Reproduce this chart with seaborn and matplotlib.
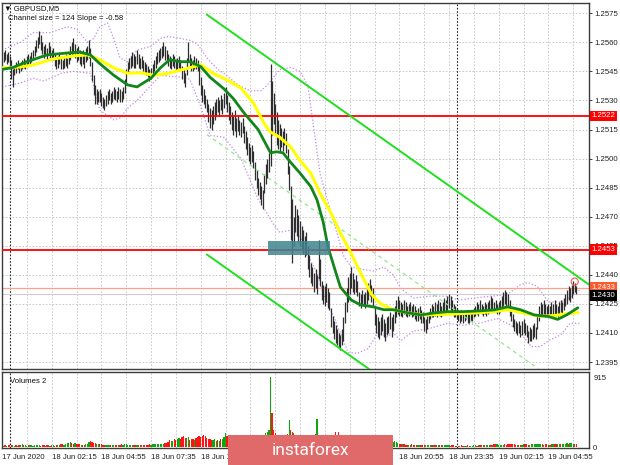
import numpy as np
import pandas as pd
import matplotlib
matplotlib.use("Agg")
import matplotlib.pyplot as plt
import matplotlib.transforms as mtransforms
from matplotlib.patches import Rectangle
import seaborn as sns

# ---------------------------------------------------------------- data
# prices are given in pips above base_price (1.2300); bar index 0 = 17 Jun 23:35 (M5 bars)
base_price = 1.2300
pip = 0.0001

bar_high = [
    255, 256, 254, 255, 253, 251, 246, 248, 250, 251,
    249, 250, 251, 252, 251, 253, 254, 253, 255, 256,
    258, 261, 263, 266, 264, 260, 258, 259, 257, 260,
    258, 256, 257, 254, 252, 253, 254, 252, 251, 253,
    254, 252, 255, 258, 260, 262, 259, 257, 258, 256,
    255, 256, 254, 257, 258, 261, 257, 250, 243, 238,
    236, 235, 236, 234, 232, 231, 233, 235, 236, 234,
    235, 237, 236, 235, 237, 236, 235, 237, 241, 246,
    250, 252, 253, 255, 254, 253, 256, 254, 252, 253,
    251, 250, 249, 248, 246, 247, 249, 251, 253, 255,
    256, 257, 258, 260, 258, 256, 254, 253, 252, 254,
    253, 251, 252, 253, 251, 248, 246, 244, 252, 260,
    254, 252, 251, 253, 252, 251, 248, 242, 238, 236,
    233, 231, 228, 226, 225, 227, 229, 231, 232, 230,
    233, 231, 234, 237, 233, 229, 227, 224, 222, 225,
    221, 222, 220, 219, 221, 217, 214, 211, 208, 206,
    207, 204, 198, 194, 190, 188, 186, 184, 192, 197,
    200, 203, 249, 240, 234, 228, 224, 220, 218, 216,
    214, 216, 213, 205, 196, 186, 179, 170, 176, 174,
    171, 168, 165, 163, 160, 162, 155, 150, 146, 144,
    141, 143, 140, 158, 148, 137, 135, 134, 136, 133,
    131, 123, 119, 116, 114, 112, 110, 109, 112, 118,
    126, 133, 139, 141, 144, 141, 138, 140, 137, 131,
    130, 132, 130, 131, 133, 136, 138, 135, 133, 124,
    120, 118, 116, 118, 120, 117, 115, 118, 119, 121,
    118, 120, 124, 127, 129, 127, 126, 125, 127, 126,
    124, 125, 126, 124, 125, 124, 122, 123, 124, 122,
    121, 118, 117, 119, 121, 123, 125, 124, 126, 125,
    127, 126, 124, 126, 128, 127, 129, 130, 129, 127,
    125, 124, 123, 122, 121, 122, 120, 121, 122, 121,
    120, 122, 121, 123, 124, 126, 125, 127, 125, 124,
    126, 125, 126, 127, 129, 128, 126, 127, 125, 126,
    127, 129, 131, 132, 131, 130, 127, 123, 120, 117,
    116, 115, 116, 114, 116, 117, 115, 114, 111, 113,
    112, 114, 115, 113, 120, 124, 126, 125, 127, 125,
    124, 125, 124, 126, 125, 127, 125, 124, 126, 127,
    126, 128, 130, 132, 134, 133, 135, 137, 136, 134,
]
bar_low = [
    250, 251, 249, 250, 248, 241, 237, 243, 244, 246,
    244, 245, 246, 247, 246, 248, 249, 248, 250, 251,
    253, 255, 257, 259, 256, 254, 252, 253, 251, 254,
    252, 251, 251, 248, 246, 247, 249, 246, 246, 247,
    248, 247, 249, 251, 253, 254, 252, 250, 251, 249,
    248, 249, 247, 250, 251, 252, 248, 240, 233, 228,
    228, 229, 229, 227, 226, 225, 227, 228, 230, 228,
    229, 231, 230, 229, 231, 229, 229, 231, 234, 238,
    244, 246, 247, 248, 247, 247, 249, 247, 246, 247,
    245, 244, 243, 242, 240, 241, 243, 245, 247, 249,
    250, 251, 252, 253, 251, 250, 248, 247, 246, 248,
    247, 245, 246, 247, 246, 241, 239, 237, 243, 250,
    247, 245, 245, 246, 246, 245, 238, 233, 229, 228,
    226, 224, 219, 216, 215, 218, 220, 222, 224, 222,
    225, 223, 226, 228, 224, 220, 218, 215, 212, 214,
    211, 214, 212, 211, 213, 208, 205, 202, 199, 197,
    198, 195, 189, 185, 181, 179, 176, 174, 182, 187,
    190, 193, 196, 212, 218, 212, 207, 205, 204, 206,
    204, 207, 203, 192, 184, 158, 146, 155, 162, 160,
    157, 155, 153, 151, 149, 150, 143, 139, 136, 134,
    131, 133, 130, 138, 134, 127, 125, 124, 126, 123,
    122, 113, 110, 107, 105, 104, 103, 101, 104, 106,
    115, 121, 126, 130, 133, 131, 130, 131, 129, 124,
    123, 125, 124, 123, 125, 127, 129, 126, 124, 114,
    110, 108, 107, 109, 111, 108, 106, 109, 110, 112,
    108, 111, 115, 118, 120, 119, 119, 118, 120, 119,
    118, 119, 120, 118, 119, 117, 116, 116, 117, 115,
    115, 111, 110, 112, 115, 117, 118, 118, 119, 118,
    120, 119, 118, 120, 121, 120, 122, 123, 122, 120,
    118, 118, 117, 116, 115, 116, 115, 116, 117, 115,
    115, 116, 116, 118, 119, 120, 119, 121, 120, 119,
    120, 119, 120, 121, 122, 122, 121, 121, 120, 120,
    121, 123, 124, 125, 124, 123, 119, 116, 113, 111,
    110, 109, 110, 108, 109, 110, 109, 108, 105, 106,
    106, 107, 108, 107, 112, 116, 118, 119, 120, 118,
    118, 119, 118, 120, 119, 120, 119, 118, 120, 121,
    120, 122, 124, 125, 127, 126, 128, 130, 131, 130,
]
volume = [
    18, 22, 15, 20, 25, 30, 22, 18, 20, 16,
    24, 30, 35, 28, 20, 18, 22, 26, 20, 18,
    25, 30, 28, 22, 18, 20, 24, 19, 22, 20,
    18, 22, 20, 16, 25, 30, 28, 35, 40, 32,
    45, 50, 55, 60, 48, 40, 52, 45, 38, 35,
    30, 28, 32, 40, 35, 60, 85, 70, 55, 50,
    45, 40, 38, 35, 30, 28, 32, 30, 26, 24,
    30, 28, 25, 22, 26, 30, 35, 32, 40, 38,
    30, 28, 25, 32, 30, 26, 28, 24, 22, 30,
    26, 24, 28, 30, 35, 32, 40, 45, 42, 38,
    35, 40, 38, 45, 50, 55, 70, 90, 80, 85,
    100, 95, 110, 120, 105, 130, 140, 120, 115, 125,
    90, 110, 100, 95, 120, 135, 150, 130, 145, 160,
    140, 120, 110, 100, 95, 90, 105, 85, 95, 80,
    100, 110, 130, 180, 150, 140, 130, 120, 110, 125,
    130, 120, 115, 140, 130, 120, 125, 140, 135, 130,
    150, 160, 140, 130, 145, 150, 140, 135, 160, 180,
    200, 220, 915, 450, 220, 180, 160, 150, 140, 130,
    140, 130, 150, 170, 355, 220, 200, 180, 160, 150,
    140, 130, 150, 140, 130, 145, 160, 150, 140, 130,
    150, 170, 370, 160, 150, 140, 130, 120, 130, 125,
    120, 110, 130, 150, 190, 140, 190, 160, 150, 130,
    120, 110, 100, 105, 95, 90, 100, 85, 80, 90,
    80, 75, 85, 70, 75, 80, 70, 65, 75, 70,
    65, 60, 70, 65, 60, 55, 60, 70, 65, 60,
    70, 65, 75, 60, 50, 45, 40, 38, 35, 30,
    32, 30, 28, 35, 30, 26, 24, 28, 30, 26,
    24, 28, 30, 26, 22, 25, 28, 24, 22, 20,
    24, 22, 26, 30, 28, 25, 22, 20, 18, 22,
    20, 18, 16, 15, 18, 20, 16, 15, 18, 20,
    18, 16, 15, 20, 22, 18, 24, 30, 26, 22,
    20, 24, 22, 26, 30, 28, 35, 45, 40, 30,
    28, 26, 30, 35, 32, 40, 45, 38, 42, 35,
    30, 28, 32, 30, 28, 35, 40, 38, 32, 30,
    34, 40, 36, 42, 38, 45, 40, 35, 32, 38,
    35, 30, 32, 40, 38, 35, 42, 45, 40, 38,
    35, 40, 45, 50, 42, 48, 55, 45, 40, 35,
]
volume_dir = (
    "UDUDDDUUDU" "DUUDUUDUUU" "UUUUDDDUDU" "DDUDDUUDDU" "UUUUDDUDDD"
    "UDDUUUDDDD" "UUDDDDUUUD" "UUDDUDDUUU" "UUUUDDUDDU" "DDDDDUUUUU"
    "UUUUDDDDUU" "DDUUDDDDUU" "DDDUDDDDDD" "DDDDDUUUDU" "DUUUDDDDDU"
    "DDDUDDDDDD" "DDDDDDUUUU" "UUUDDDDDDU" "DUDDUDDUDD" "DDDUDDDDDD"
    "DDUDDDDUDD" "DDDDDDDDUU" "UUUUDDUDDD" "DUDUUUDDDD" "DDDUUDDUUU"
    "DUUUUDDUDD" "DUUDDDDUUD" "DDUUUUDUDU" "UDDUUUUUDD" "DDDDUDDUUD"
    "DUUUUDUDDU" "DUUUDUDDUU" "UUUDDDDDDD" "DUDDUUDDDU" "UUUUUUUDUD"
    "DDUDUDDUUD" "UUUUDUUUDD"
)

ma_fast_bar = [0, 7, 16, 29, 42, 50, 57, 63, 72, 81, 87, 96, 102, 108, 115, 121, 128, 134,
               143, 149, 156, 165, 171, 173, 177, 181, 186, 192, 199, 203, 207, 210, 214,
               218, 225, 231, 239, 246, 252, 261, 270, 278, 287, 297, 308, 317, 326, 334,
               343, 352, 358, 364, 371]
ma_fast_pips = [246, 247, 250, 253.5, 254.5, 255, 253.5, 249, 243, 238, 237, 241.5, 246.8,
                251, 250, 250, 247.5, 242, 236, 231, 223.5, 215, 206, 203, 203.5, 203, 198,
                192.5, 185.5, 178.6, 167, 154.5, 144, 133.7, 127, 124.5, 123.5, 122, 122,
                120.5, 119.3, 120.3, 121, 121, 121.4, 121.9, 123.5, 122, 119.3, 118.5, 117,
                119.4, 123]
ma_slow_bar = [0, 12, 20, 33, 46, 55, 63, 72, 81, 89, 98, 107, 115, 123, 128, 136, 145, 154,
               162, 169, 173, 179, 186, 192, 199, 205, 212, 218, 225, 231, 238, 244, 252,
               261, 270, 278, 291, 304, 317, 326, 336, 347, 356, 365, 371]
ma_slow_pips = [246.8, 247.3, 248.3, 251.4, 253, 253.5, 251, 246.8, 244, 244.3, 243, 244,
                245.7, 247.3, 248.5, 244, 240.6, 236.4, 228.7, 218, 213.7, 211, 206, 199,
                192.4, 182, 171.9, 161.6, 151, 141, 130, 125, 122, 120.5, 119.4, 119.4,
                119.8, 120.3, 121, 122, 120.3, 118.6, 119, 120, 120.5]
band_up_bar = [0, 12, 20, 31, 42, 48, 55, 59, 63, 68, 72, 76, 81, 87, 96, 102, 107, 115, 121,
               126, 132, 139, 143, 152, 160, 167, 171, 179, 186, 192, 197, 201, 205, 212,
               220, 225, 231, 239, 246, 252, 257, 265, 276, 287, 294, 304, 315, 326, 334,
               339, 345, 352, 360, 365, 372]
band_up_pips = [256, 260, 265, 265, 268, 267, 260, 262, 268, 270, 262, 252, 250, 256, 258,
                262, 263, 262, 261, 259, 252, 246, 244, 238, 235, 235, 238, 246, 247, 245,
                238, 215, 192, 172, 150, 144, 143, 142, 144, 140, 133, 128, 129, 129, 127,
                128, 129, 130, 135, 136, 134, 126, 126, 128, 132]
band_lo_bar = [0, 12, 20, 27, 38, 46, 57, 63, 72, 76, 81, 87, 94, 102, 115, 121, 128, 134,
               143, 154, 165, 169, 175, 179, 186, 192, 197, 203, 207, 214, 220, 223, 229,
               236, 242, 248, 252, 257, 265, 274, 287, 297, 308, 319, 328, 334, 341, 347,
               352, 360, 366, 372]
band_lo_pips = [237, 239, 241.5, 240, 244, 245, 244, 225, 220, 221, 226, 230, 236, 243, 242,
                241, 227, 212, 211, 200, 179, 174, 166, 162, 163, 160, 150, 141, 130, 118,
                106, 100, 99.5, 102, 110, 108, 110, 106, 111, 112, 115, 114, 115, 117.5, 114,
                110, 103, 103, 106, 109, 115, 115]

channel_bar = [132, 379]
channel_upper_pips = [274.3, 134.5]
channel_middle_pips = [212.4, 72.6]
channel_lower_pips = [150.5, 10.7]

level_prices = [1.2522, 1.2453]
level_labels = ["1.2522", "1.2453"]
ask_price, ask_label = 1.2433, "1.2433"
bid_price, bid_label = 1.2430, "1.2430"
zone_bars = [171.6, 211.5]
zone_prices = [1.24503, 1.24575]
alert_bar = [369]
alert_pips = [136.5]

price_ticks = [1.2395, 1.2410, 1.2425, 1.2440, 1.2455, 1.2470, 1.2485,
               1.2500, 1.2515, 1.2530, 1.2545, 1.2560, 1.2575]
# labels hidden under the watermark banner in the source are left out
time_tick_bars = [0, 32, 64, 96, 128, 256, 288, 320, 352]
time_tick_labels = ["17 Jun 2020", "18 Jun 02:15", "18 Jun 04:55", "18 Jun 07:35",
                    "18 Jun 10:15", "18 Jun 20:55", "18 Jun 23:35", "19 Jun 02:15",
                    "19 Jun 04:55"]
day_separator_bars = [5, 293]
volume_ticks = [0, 915]


def to_price(p):
    return base_price + np.asarray(p, dtype=float) * pip


# ---------------------------------------------------------------- style
sns.set_style("white")
FONT = ["Liberation Sans", "DejaVu Sans"]
plt.rcParams["font.family"] = FONT
FS = 5.6

W, H = 620, 465
fig = plt.figure(figsize=(W / 100, H / 100), dpi=100)
fig.patch.set_facecolor("white")


def rect(l, t, r, b):
    return [l / W, 1 - b / H, (r - l) / W, (b - t) / H]


ax = fig.add_axes(rect(2, 3, 589, 369))
axv = fig.add_axes(rect(2, 372, 589, 448))
XMAX = 378.2
grid_bars = list(range(0, 379, 16))

# ---------------------------------------------------------------- main panel
ax.set_xlim(0, XMAX)
ax.set_ylim(1.23914, 1.25803)
for g in grid_bars:
    ax.axvline(g, color="#c2c2c2", lw=0.6, ls=(0, (2, 2)), zorder=0)
for t in price_ticks:
    ax.axhline(t, color="#c2c2c2", lw=0.6, ls=(0, (2, 2)), zorder=0)
for d in day_separator_bars:
    ax.axvline(d, color="#202020", lw=0.8, ls=(0, (1.5, 1.5)), zorder=1)

bars = np.arange(1, len(bar_high) + 1)
candles = pd.DataFrame({"bar": bars, "high": to_price(bar_high), "low": to_price(bar_low)})

# envelope bands (dotted purple)
sns.lineplot(x=band_up_bar, y=to_price(band_up_pips), ax=ax, color="#c487e6", lw=0.9,
             linestyle=(0, (1, 1.6)), zorder=2)
sns.lineplot(x=band_lo_bar, y=to_price(band_lo_pips), ax=ax, color="#c487e6", lw=0.9,
             linestyle=(0, (1, 1.6)), zorder=2)

ax.vlines(candles["bar"], candles["low"], candles["high"], color="#2e2e2e", lw=0.9, zorder=3)

# horizontal levels
for lv in level_prices:
    ax.axhline(lv, color="#ff0000", lw=1.3, zorder=4)
ax.axhline(ask_price, color="#ffa088", lw=0.9, zorder=2)
ax.axhline(bid_price, color="#cfcfcf", lw=0.8, zorder=2)

# regression channel
sns.lineplot(x=channel_bar, y=to_price(channel_upper_pips), ax=ax, color="#1fe01f", lw=1.4, zorder=4)
sns.lineplot(x=channel_bar, y=to_price(channel_lower_pips), ax=ax, color="#1fe01f", lw=1.4, zorder=4)
sns.lineplot(x=channel_bar, y=to_price(channel_middle_pips), ax=ax, color="#8fe88f", lw=0.9,
             linestyle=(0, (3, 3)), zorder=4)

# moving averages
sns.lineplot(x=ma_slow_bar, y=to_price(ma_slow_pips), ax=ax, color="#ffff00", lw=2.2, zorder=5)
sns.lineplot(x=ma_fast_bar, y=to_price(ma_fast_pips), ax=ax, color="#12861a", lw=2.0, zorder=6)

# zone box
ax.add_patch(Rectangle((zone_bars[0], zone_prices[0]), zone_bars[1] - zone_bars[0],
                       zone_prices[1] - zone_prices[0], fc="#3f8590", ec="none",
                       alpha=0.85, zorder=7))
# alert circle
sns.scatterplot(x=alert_bar, y=to_price(alert_pips), ax=ax, marker="o", s=26,
                facecolor="none", edgecolor="#ff5555", linewidth=0.8, zorder=8)

ax.yaxis.tick_right()
ax.set_yticks(price_ticks)
ax.set_yticklabels([f"{t:.4f}" for t in price_ticks])
ax.tick_params(axis="y", direction="out", length=2.5, width=0.6, pad=1.5,
               labelsize=FS, colors="#222222")
ax.set_xticks([])
for s in ax.spines.values():
    s.set_color("#3c3c3c")
    s.set_linewidth(1.0)

trans = mtransforms.blended_transform_factory(ax.transAxes, ax.transData)
for lv, lab in zip(level_prices, level_labels):
    ax.text(1.004, lv, lab, transform=trans, fontsize=FS, color="white", va="center",
            ha="left", zorder=10, clip_on=False,
            bbox=dict(boxstyle="square,pad=0.22", fc="#ff0000", ec="none"))
ax.text(1.004, ask_price + 0.00006, ask_label, transform=trans, fontsize=FS, color="white",
        va="center", ha="left", zorder=10, clip_on=False,
        bbox=dict(boxstyle="square,pad=0.22", fc="#ff5a2e", ec="none"))
ax.text(1.004, bid_price - 0.00006, bid_label, transform=trans, fontsize=FS, color="white",
        va="center", ha="left", zorder=11, clip_on=False,
        bbox=dict(boxstyle="square,pad=0.22", fc="#000000", ec="none"))

fig.text(4 / W, 1 - 8.5 / H, "▼ GBPUSD,M5", fontsize=FS, va="center", ha="left", color="#111111")
fig.text(8 / W, 1 - 19 / H, "Channel size = 124 Slope = -0.58", fontsize=FS, va="center",
         ha="left", color="#111111")

# ---------------------------------------------------------------- volume panel
axv.set_xlim(0, XMAX)
axv.set_ylim(-13, 981)
for g in grid_bars:
    axv.axvline(g, color="#c2c2c2", lw=0.6, ls=(0, (2, 2)), zorder=0)
for d in day_separator_bars:
    axv.axvline(d, color="#202020", lw=0.8, ls=(0, (1.5, 1.5)), zorder=1)
vol_colors = ["#0aa80a" if c == "U" else "#ff1414" for c in volume_dir]
axv.bar(bars, volume, width=0.8, color=vol_colors, linewidth=0, zorder=3)

axv.yaxis.tick_right()
axv.set_yticks(volume_ticks)
axv.set_yticklabels([str(v) for v in volume_ticks])
axv.tick_params(axis="y", direction="out", length=0, pad=3, labelsize=FS, colors="#222222")
axv.set_xticks(grid_bars)
lab_map = dict(zip(time_tick_bars, time_tick_labels))
axv.set_xticklabels([lab_map.get(g, "") for g in grid_bars])
for lab in axv.get_xticklabels():
    lab.set_horizontalalignment("left")
axv.tick_params(axis="x", direction="out", length=2.5, width=0.6, pad=1.5,
                labelsize=FS, colors="#222222")
for s in axv.spines.values():
    s.set_color("#3c3c3c")
    s.set_linewidth(1.0)
axv.text(8 / 587, 0.88, "Volumes 2", transform=axv.transAxes, fontsize=FS, va="center",
         ha="left", color="#111111")

# ---------------------------------------------------------------- watermark banner
fig.add_artist(Rectangle((228 / W, 0), 165 / W, 30 / H, transform=fig.transFigure,
                         fc="#e06a6a", ec="none", zorder=20))
fig.text(311 / W, 15 / H, "instaforex", color="white", fontsize=12.5,
         family=["Roboto", "DejaVu Sans"], ha="center", va="center", zorder=21)

fig.savefig("out.png", dpi=100)
